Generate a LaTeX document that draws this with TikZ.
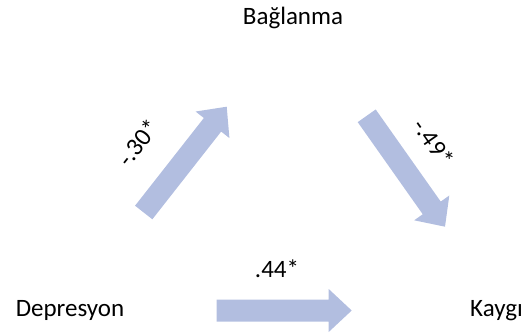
\documentclass[tikz,border=0pt]{standalone}
\usepackage{fontspec}
\setmainfont{Carlito}
\usetikzlibrary{calc}
\definecolor{arrowblue}{RGB}{178,190,224}
\tikzset{
  lbl/.style={inner sep=0pt, font=\fontsize{25}{30}\selectfont},
  blockarrow/.style={fill=arrowblue, draw=none}
}
\newcommand{\myblockarrow}[2]{%
  \fill[arrowblue]
    ($(#1)!11pt!90:(#2)$) --
    ($($(#2)!23pt!(#1)$)!11pt!-90:(#1)$) --
    ($($(#2)!23pt!(#1)$)!21.5pt!-90:(#1)$) --
    (#2) --
    ($($(#2)!23pt!(#1)$)!21.5pt!90:(#1)$) --
    ($($(#2)!23pt!(#1)$)!11pt!90:(#1)$) --
    ($(#1)!11pt!-90:(#2)$) -- cycle;}
\begin{document}
\begin{tikzpicture}[x=1pt,y=-1pt]
\useasboundingbox (0,0) rectangle (529,334);
% texts
\node[lbl, anchor=base] (bag) at (293,25) {Bağlanma};
\node[lbl, anchor=base] (dep) at (70,316.7) {Depresyon};
\node[lbl, anchor=base west] (kay) at (470,316.7) {Kaygı};
% arrow end points
\coordinate (a1t) at (143.7,212.5);
\coordinate (a1h) at (226.7,106.7);
\coordinate (a2t) at (366.7,115.8);
\coordinate (a2h) at (445,226.7);
\coordinate (a3t) at (216.7,310.5);
\coordinate (a3h) at (351.7,310.5);
\myblockarrow{a1t}{a1h}
\myblockarrow{a2t}{a2h}
\myblockarrow{a3t}{a3h}
% coefficients
\node[lbl, rotate=52] (c1) at (138.3,142.5) {-.30*};
\node[lbl, rotate=-55] (c2) at (434,142.5) {-.49*};
\node[lbl] (c3) at (277,269) {.44*};
\end{tikzpicture}
\end{document}
